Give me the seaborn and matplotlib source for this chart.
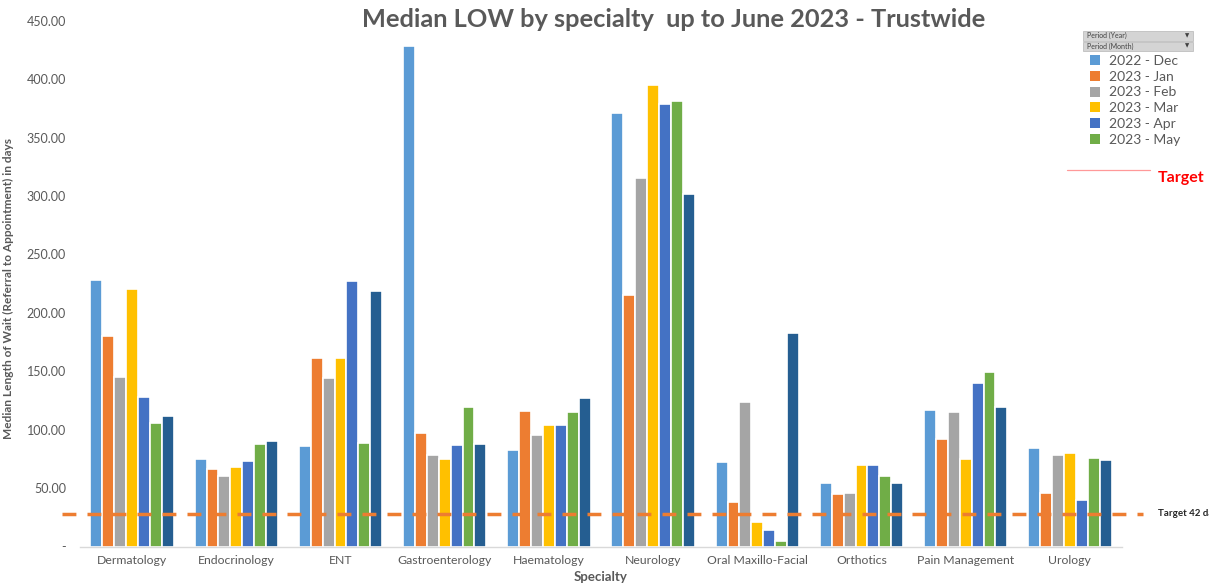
import numpy as np
import pandas as pd
import matplotlib
matplotlib.use("Agg")
import matplotlib.pyplot as plt
import seaborn as sns
from matplotlib.patches import Rectangle
from matplotlib.lines import Line2D

# Median length of wait (days) by specialty and month
specialties = ["Dermatology", "Endocrinology", "ENT", "Gastroenterology", "Haematology",
               "Neurology", "Oral Maxillo-Facial", "Orthotics", "Pain Management", "Urology"]
periods = ["2022 - Dec", "2023 - Jan", "2023 - Feb", "2023 - Mar", "2023 - Apr", "2023 - May", "2023 - Jun"]

dec_2022 = [228, 75, 86, 428, 83, 371, 72, 54, 117, 84]
jan_2023 = [180, 66, 161, 97, 116, 215, 38, 45, 92, 46]
feb_2023 = [145, 60, 144, 78, 95, 315, 124, 46, 115, 78]
mar_2023 = [220, 68, 161, 75, 104, 395, 21, 70, 75, 80]
apr_2023 = [128, 73, 227, 87, 104, 379, 14, 70, 140, 40]
may_2023 = [106, 88, 89, 119, 115, 381, 5, 60, 149, 76]
jun_2023 = [112, 90, 219, 88, 127, 302, 183, 54, 119, 74]

target_days = 28
target_label = "Target 42 days"

colors = ["#5B9BD5", "#ED7D31", "#A5A5A5", "#FFC000", "#4472C4", "#70AD47", "#255E91"]

series = [dec_2022, jan_2023, feb_2023, mar_2023, apr_2023, may_2023, jun_2023]
df = pd.DataFrame({
    "Specialty": np.tile(specialties, len(periods)),
    "Period": np.repeat(periods, len(specialties)),
    "Days": np.concatenate(series),
})

sns.set_theme(style="white")
plt.rcParams["font.family"] = ["Lato", "DejaVu Sans"]
text_grey = "#595959"

fig = plt.figure(figsize=(12.09, 5.84), dpi=100)
ax = fig.add_axes([0.0662, 0.0642, 0.8618, 0.9004])

sns.barplot(data=df, x="Specialty", y="Days", hue="Period", order=specialties,
            hue_order=periods, palette=colors, width=0.8, gap=0.0,
            edgecolor="white", linewidth=1.2, saturation=1, ax=ax, legend=False)

ax.set_ylim(0, 450)
ax.set_xlim(-0.5, len(specialties) - 0.5)
yt = np.arange(0, 451, 50)
ax.set_yticks(yt)
ax.set_yticklabels(["-"] + [f"{v:.2f}" for v in yt[1:]], color=text_grey, fontsize=9)
ax.tick_params(axis="x", colors=text_grey, labelsize=8.8, length=0, pad=6)
ax.tick_params(axis="y", length=0, pad=10)
for s in ["top", "right", "left"]:
    ax.spines[s].set_visible(False)
ax.spines["bottom"].set_color("#D9D9D9")
ax.spines["bottom"].set_linewidth(1)
ax.grid(False)

ax.set_xlabel("Specialty", fontsize=9.5, fontweight="bold", color=text_grey)
ax.xaxis.set_label_coords(0.5, -0.047)
ax.set_ylabel("Median Length of Wait (Referral to Appointment) in days", fontsize=8.6,
              fontweight="bold", color=text_grey)
ax.yaxis.set_label_coords(-0.0633, 0.49)

# dashed target line running past the plot edges
ax.plot([-0.67, 9.70], [target_days, target_days], color="#ED7D31", lw=2.5,
        ls=(0, (4, 3.2)), clip_on=False, zorder=5)
ax.text(9.85, target_days, target_label, fontsize=7, fontweight="bold",
        color="#262626", va="center", ha="left", clip_on=False)

fig.text(0.557, 0.967, "Median LOW by specialty  up to June 2023 - Trustwide",
         ha="center", va="center", fontsize=18.3, fontweight="bold", color=text_grey)

# filter buttons above the legend
for i, lab in enumerate(["Period (Year)", "Period (Month)"]):
    y0 = 1 - (31 + i * 10.5) / 584 - 9.5 / 584
    box = Rectangle((1083 / 1209, y0), 110 / 1209, 9.5 / 584, transform=fig.transFigure,
                    facecolor="#D4D4D4", edgecolor="#BFBFBF", lw=0.6)
    fig.add_artist(box)
    fig.text(1087 / 1209, y0 + 4.75 / 584, lab, fontsize=5, color="#404040", va="center")
    fig.text(1187 / 1209, y0 + 4.75 / 584, "\u25BC", fontsize=4, color="#404040",
             va="center", ha="center", family="DejaVu Sans")

handles = [Rectangle((0, 0), 1, 1, facecolor=c, edgecolor="none") for c in colors[:6]]
leg = fig.legend(handles, periods[:6], loc="upper left", bbox_to_anchor=(1090 / 1209, 1 - 55 / 584),
                 frameon=False, fontsize=10, handlelength=0.75, handleheight=0.75,
                 handletextpad=0.6, labelspacing=0.27, borderaxespad=0, borderpad=0)
for t in leg.get_texts():
    t.set_color(text_grey)

# target key
fig.add_artist(Line2D([1067 / 1209, 1150 / 1209], [1 - 170 / 584, 1 - 170 / 584],
                      transform=fig.transFigure, color="#FF9999", lw=0.9))
fig.text(1158 / 1209, 1 - 178 / 584, "Target", fontsize=11.5, fontweight="bold",
         color="#FF0000", va="center", ha="left")

fig.savefig("out.png", dpi=100)
